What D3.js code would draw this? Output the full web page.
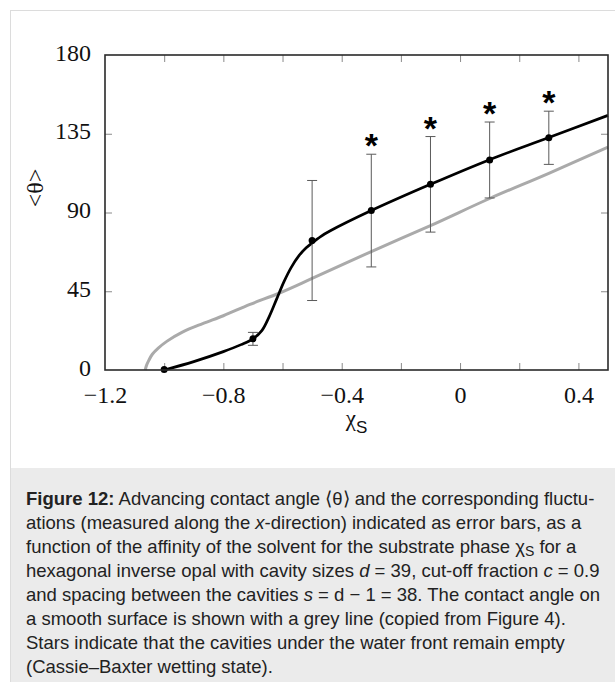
<!DOCTYPE html>
<html>
<head>
<meta charset="utf-8">
<script src="https://cdn.jsdelivr.net/npm/d3@7"></script>
<style>
  html, body { margin: 0; padding: 0; background: #ffffff; }
  svg { display: block; }
</style>
</head>
<body>
<svg id="fig" width="615" height="682"></svg>
<script>
// Axis ticks and labels
const xTickValues = [-1.0, -0.8, -0.6, -0.4, -0.2, 0, 0.2, 0.4];
const xLabelValues = [-1.2, -0.8, -0.4, 0, 0.4];
const xLabelText = ["\u22121.2", "\u22120.8", "\u22120.4", "0", "0.4"];
const yTickValues = [0, 45, 90, 135, 180];
const yLabelText = ["0", "45", "90", "135", "180"];

// Simulated points: affinity chi_S, mean advancing angle, fluctuation, Cassie-Baxter flag
const chiS = [-1.0, -0.7, -0.5, -0.3, -0.1, 0.1, 0.3];
const thetaMean = [0.3, 17.8, 74.0, 91.1, 106.1, 120.0, 132.7];
const thetaErr = [0, 3.7, 34.3, 32.2, 27.3, 21.7, 15.2];
const cassie = [false, false, false, true, true, true, true];

// Black guide curve through the simulated points
const fitChi = [-1.0, -0.9, -0.8, -0.74, -0.7, -0.67, -0.645, -0.62, -0.595, -0.57, -0.545, -0.52, -0.5, -0.47, -0.44, -0.3, -0.1, 0.1, 0.3, 0.5];
const fitTheta = [0, 4.8, 10.5, 14.5, 17.8, 22.5, 30.5, 40.5, 50.5, 58.8, 65.2, 69.8, 72.6, 76.4, 79.4, 91.1, 106.1, 120.2, 132.8, 145.5];

// Grey curve: contact angle on a smooth surface
const smoothChi = [-1.064, -1.06, -1.052, -1.04, -1.02, -0.99, -0.94, -0.87, -0.8, -0.71, -0.61, -0.5, -0.3, -0.1, 0.1, 0.3, 0.5];
const smoothTheta = [0, 2.5, 5.5, 9, 12.5, 16.5, 21.5, 26.5, 31, 37.5, 44, 52.3, 67.7, 82.5, 98, 112.4, 127.4];

// Caption lines: [text, style]
const captionLines = [
  [["Figure 12:", "b"], [" Advancing contact angle \u27E8\u03B8\u27E9 and the corresponding fluctu-", ""]],
  [["ations (measured along the ", ""], ["x", "i"], ["-direction) indicated as error bars, as a", ""]],
  [["function of the affinity of the solvent for the substrate phase \u03C7", ""], ["S", "sub"], [" for a", ""]],
  [["hexagonal inverse opal with cavity sizes ", ""], ["d", "i"], [" = 39, cut-off fraction ", ""], ["c", "i"], [" = 0.9", ""]],
  [["and spacing between the cavities ", ""], ["s", "i"], [" = d \u2212 1 = 38. The contact angle on", ""]],
  [["a smooth surface is shown with a grey line (copied from Figure 4).", ""]],
  [["Stars indicate that the cavities under the water front remain empty", ""]],
  [["(Cassie\u2013Baxter wetting state).", ""]]
];

const svg = d3.select("#fig");
const serif = "'Liberation Serif', 'Times New Roman', serif";
const sans = "'Liberation Sans', Arial, sans-serif";

// Figure panel and caption background
svg.append("rect").attr("x", 10.5).attr("y", 10.5).attr("width", 620).attr("height", 700)
  .attr("fill", "#ffffff").attr("stroke", "#dcdcdc").attr("stroke-width", 1);
svg.append("rect").attr("x", 11).attr("y", 468).attr("width", 604).attr("height", 214)
  .attr("fill", "#ebebeb");

const plot = { left: 105, right: 608, top: 55, bottom: 370 };
const x = d3.scaleLinear().domain([-1.2, 0.5]).range([plot.left, plot.right]);
const y = d3.scaleLinear().domain([0, 180]).range([plot.bottom, plot.top]);

// Inward ticks on all four sides
const tickLen = 7;
function tickAxis(axis, tx, ty) {
  const g = svg.append("g").attr("transform", `translate(${tx},${ty})`).call(axis);
  g.select(".domain").remove();
  g.selectAll("text").remove();
  g.selectAll("line").attr("stroke", "#8a8a8a").attr("stroke-width", 1);
  return g;
}
tickAxis(d3.axisBottom(x).tickValues(xTickValues).tickSizeInner(-tickLen).tickSizeOuter(0), 0, plot.bottom);
tickAxis(d3.axisTop(x).tickValues(xTickValues).tickSizeInner(-tickLen).tickSizeOuter(0), 0, plot.top);
tickAxis(d3.axisLeft(y).tickValues(yTickValues.slice(1, 4)).tickSizeInner(-tickLen).tickSizeOuter(0), plot.left, 0);
tickAxis(d3.axisRight(y).tickValues(yTickValues.slice(1, 4)).tickSizeInner(-tickLen).tickSizeOuter(0), plot.right, 0);

// Tick labels
const xLab = svg.append("g").attr("transform", `translate(0,${plot.bottom})`)
  .call(d3.axisBottom(x).tickValues(xLabelValues).tickSize(0).tickPadding(0)
    .tickFormat((d, i) => xLabelText[i]));
xLab.select(".domain").remove();
xLab.selectAll("text").attr("y", 33).attr("dy", 0)
  .attr("font-family", serif).attr("font-size", 24).attr("fill", "#111");

const yLab = svg.append("g").attr("transform", `translate(${plot.left},0)`)
  .call(d3.axisLeft(y).tickValues(yTickValues).tickSize(0).tickPadding(0)
    .tickFormat((d, i) => yLabelText[i]));
yLab.select(".domain").remove();
yLab.selectAll("text").attr("x", -14).attr("dy", 5)
  .attr("font-family", serif).attr("font-size", 24).attr("fill", "#111");

// Curves
const line = d3.line().x(d => x(d[0])).y(d => y(d[1])).curve(d3.curveCatmullRom.alpha(0.5));
svg.append("path").datum(d3.zip(smoothChi, smoothTheta)).attr("d", line)
  .attr("fill", "none").attr("stroke", "#aaaaaa").attr("stroke-width", 3);
svg.append("path").datum(d3.zip(fitChi, fitTheta)).attr("d", line)
  .attr("fill", "none").attr("stroke", "#000").attr("stroke-width", 2.7)
  .attr("stroke-linejoin", "round");

// Error bars
const pts = chiS.map((c, i) => ({ c, m: thetaMean[i], e: thetaErr[i], star: cassie[i] }));
const bars = svg.append("g").attr("stroke", "#5a5a5a").attr("stroke-width", 1).attr("fill", "none");
const capW = 5;
pts.filter(p => p.e > 0).forEach(p => {
  bars.append("line").attr("x1", x(p.c)).attr("x2", x(p.c)).attr("y1", y(p.m - p.e)).attr("y2", y(p.m + p.e));
  bars.append("line").attr("x1", x(p.c) - capW).attr("x2", x(p.c) + capW).attr("y1", y(p.m + p.e)).attr("y2", y(p.m + p.e));
  bars.append("line").attr("x1", x(p.c) - capW).attr("x2", x(p.c) + capW).attr("y1", y(p.m - p.e)).attr("y2", y(p.m - p.e));
});

// Points
svg.append("g").selectAll("circle").data(pts).join("circle")
  .attr("cx", p => x(p.c)).attr("cy", p => y(p.m)).attr("r", 3.5).attr("fill", "#000");

// Stars marking the Cassie-Baxter state
svg.append("g").selectAll("text").data(pts.filter(p => p.star)).join("text")
  .attr("x", p => x(p.c)).attr("y", p => y(p.m + p.e) + 3)
  .attr("text-anchor", "middle").attr("font-family", sans).attr("font-weight", "bold")
  .attr("font-size", 34).attr("fill", "#000").text("*");

// Plot frame
svg.append("rect").attr("x", plot.left).attr("y", plot.top)
  .attr("width", plot.right - plot.left).attr("height", plot.bottom - plot.top)
  .attr("fill", "none").attr("stroke", "#2a2a2a").attr("stroke-width", 1.6);

// Axis titles
const xt = svg.append("text").attr("x", (plot.left + plot.right) / 2).attr("y", 426)
  .attr("text-anchor", "middle").attr("fill", "#111");
xt.append("tspan").attr("font-family", serif).attr("font-size", 23).text("\u03C7");
xt.append("tspan").attr("font-family", sans).attr("font-size", 17).attr("dy", 7).text("S");

svg.append("text").attr("transform", "translate(43,188) rotate(-90)")
  .attr("text-anchor", "middle").attr("font-family", serif).attr("font-size", 24)
  .attr("fill", "#111").text("<\u03B8>");

// Caption
const capSize = 18.5;
const cap = svg.append("g").attr("font-family", sans).attr("font-size", capSize).attr("fill", "#222");
captionLines.forEach((segs, li) => {
  const t = cap.append("text").attr("x", 26).attr("y", 505 + li * 24);
  let sub = false;
  segs.forEach(([s, st]) => {
    const ts = t.append("tspan").text(s);
    if (st === "b") ts.attr("font-weight", "bold");
    if (st === "i") ts.attr("font-style", "italic");
    if (st === "sub") { ts.attr("font-size", 14).attr("dy", 3); sub = true; }
    else if (sub) { ts.attr("dy", -3); sub = false; }
  });
});
</script>
</body>
</html>
